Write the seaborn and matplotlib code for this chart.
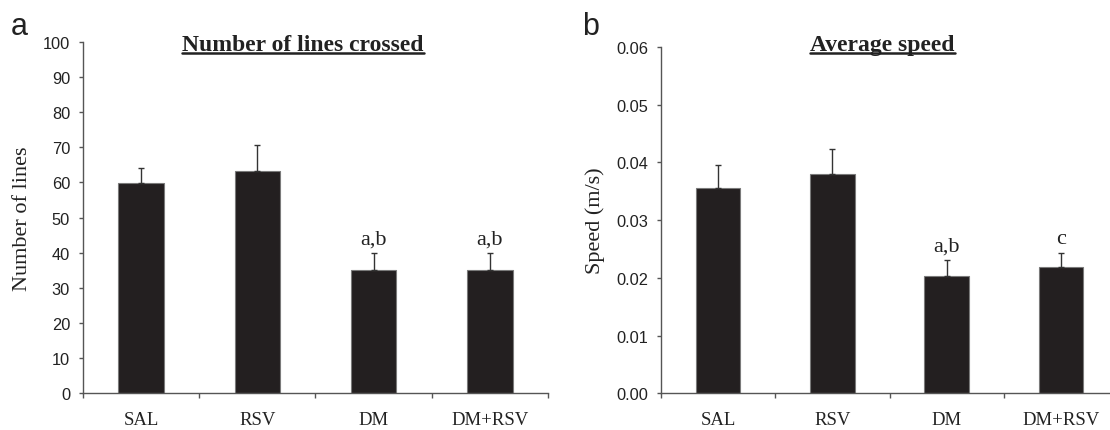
import seaborn as sns
import matplotlib.pyplot as plt
from matplotlib.lines import Line2D
import pandas as pd

# values
groups = ['SAL', 'RSV', 'DM', 'DM+RSV']
lines_mean = [59.7, 63.1, 35.1, 35.1]
lines_err = [4.3, 7.6, 4.8, 4.8]
lines_marks = ['', '', 'a,b', 'a,b']
speed_mean = [0.0355, 0.0379, 0.0204, 0.0219]
speed_err = [0.0040, 0.0044, 0.0027, 0.0024]
speed_marks = ['', '', 'a,b', 'c']

sns.set_style('ticks')
plt.rcParams['font.family'] = ['Liberation Sans', 'DejaVu Sans']

bar_col = '#231f20'
ax_col = '#555555'
serif = 'Liberation Serif'

fig = plt.figure(figsize=(11.1, 4.31), dpi=100)
ax1 = fig.add_axes([0.0746, 0.0847, 0.4191, 0.8163])
ax2 = fig.add_axes([0.5955, 0.0847, 0.4118, 0.8046])


def panel(ax, mean, err, marks, ymax, step, fmt, ylabel):
    df = pd.DataFrame({'group': groups, 'value': mean})
    sns.barplot(data=df, x='group', y='value', color=bar_col, saturation=1,
                width=0.39, errorbar=None, edgecolor='#7a7a7a', linewidth=0.8, ax=ax)
    ax.errorbar(range(len(groups)), mean, yerr=[[0] * len(err), err], fmt='none',
                ecolor='#333333', elinewidth=1.0, capsize=2.5, capthick=1.0)
    for i, m in enumerate(marks):
        if m:
            ax.annotate(m, (i, mean[i] + err[i]), xytext=(0, 7), textcoords='offset points',
                        ha='center', va='baseline', fontsize=16, family=serif, color='#222222')
    ax.set_xlim(-0.5, 3.5)
    ax.set_ylim(0, ymax)
    yt = [step * k for k in range(int(round(ymax / step)) + 1)]
    ax.set_yticks(yt)
    ax.set_yticklabels([fmt.format(v) for v in yt])
    # tick marks at the category borders, labels under the bars
    ax.set_xticks([-0.5, 0.5, 1.5, 2.5, 3.5])
    ax.set_xticklabels([])
    ax.set_xticks(range(len(groups)), minor=True)
    ax.set_xticklabels(groups, minor=True, family=serif, fontsize=13.5, color='#222222')
    ax.tick_params(axis='x', which='minor', length=0, pad=12.5)
    ax.tick_params(axis='x', which='major', length=3.7, width=1, color=ax_col)
    ax.tick_params(axis='y', length=3.2, width=1, color=ax_col, pad=6.0,
                   labelsize=11.8, labelcolor='#222222')
    ax.set_xlabel('')
    ax.set_ylabel(ylabel, family=serif, fontsize=16, color='#222222', labelpad=8)
    for s in ['top', 'right']:
        ax.spines[s].set_visible(False)
    for s in ['left', 'bottom']:
        ax.spines[s].set_color(ax_col)
        ax.spines[s].set_linewidth(1.0)


panel(ax1, lines_mean, lines_err, lines_marks, 100, 10, '{:.0f}', 'Number of lines')
panel(ax2, speed_mean, speed_err, speed_marks, 0.06, 0.01, '{:.2f}', 'Speed (m/s)')

# underlined bold titles
W, H = 1110, 431
titles = [('Number of lines crossed', 303), ('Average speed', 882.5)]
fig.canvas.draw()
rend = fig.canvas.get_renderer()
for txt, xc in titles:
    t = fig.text(xc / W, 1 - 50.7 / H, txt, ha='center', va='baseline', family=serif,
                 fontsize=17, fontweight='bold', color='#222222')
    bb = t.get_window_extent(renderer=rend)
    yl = 1 - 54 / H
    fig.add_artist(Line2D([bb.x0 / W, bb.x1 / W], [yl, yl], color='#222222', lw=1.8))

fig.text(19 / W, 1 - 35 / H, 'a', fontsize=22, ha='center', va='baseline', color='#222222')
fig.text(591 / W, 1 - 35 / H, 'b', fontsize=22, ha='center', va='baseline', color='#222222')

fig.savefig('out.png', dpi=100)
